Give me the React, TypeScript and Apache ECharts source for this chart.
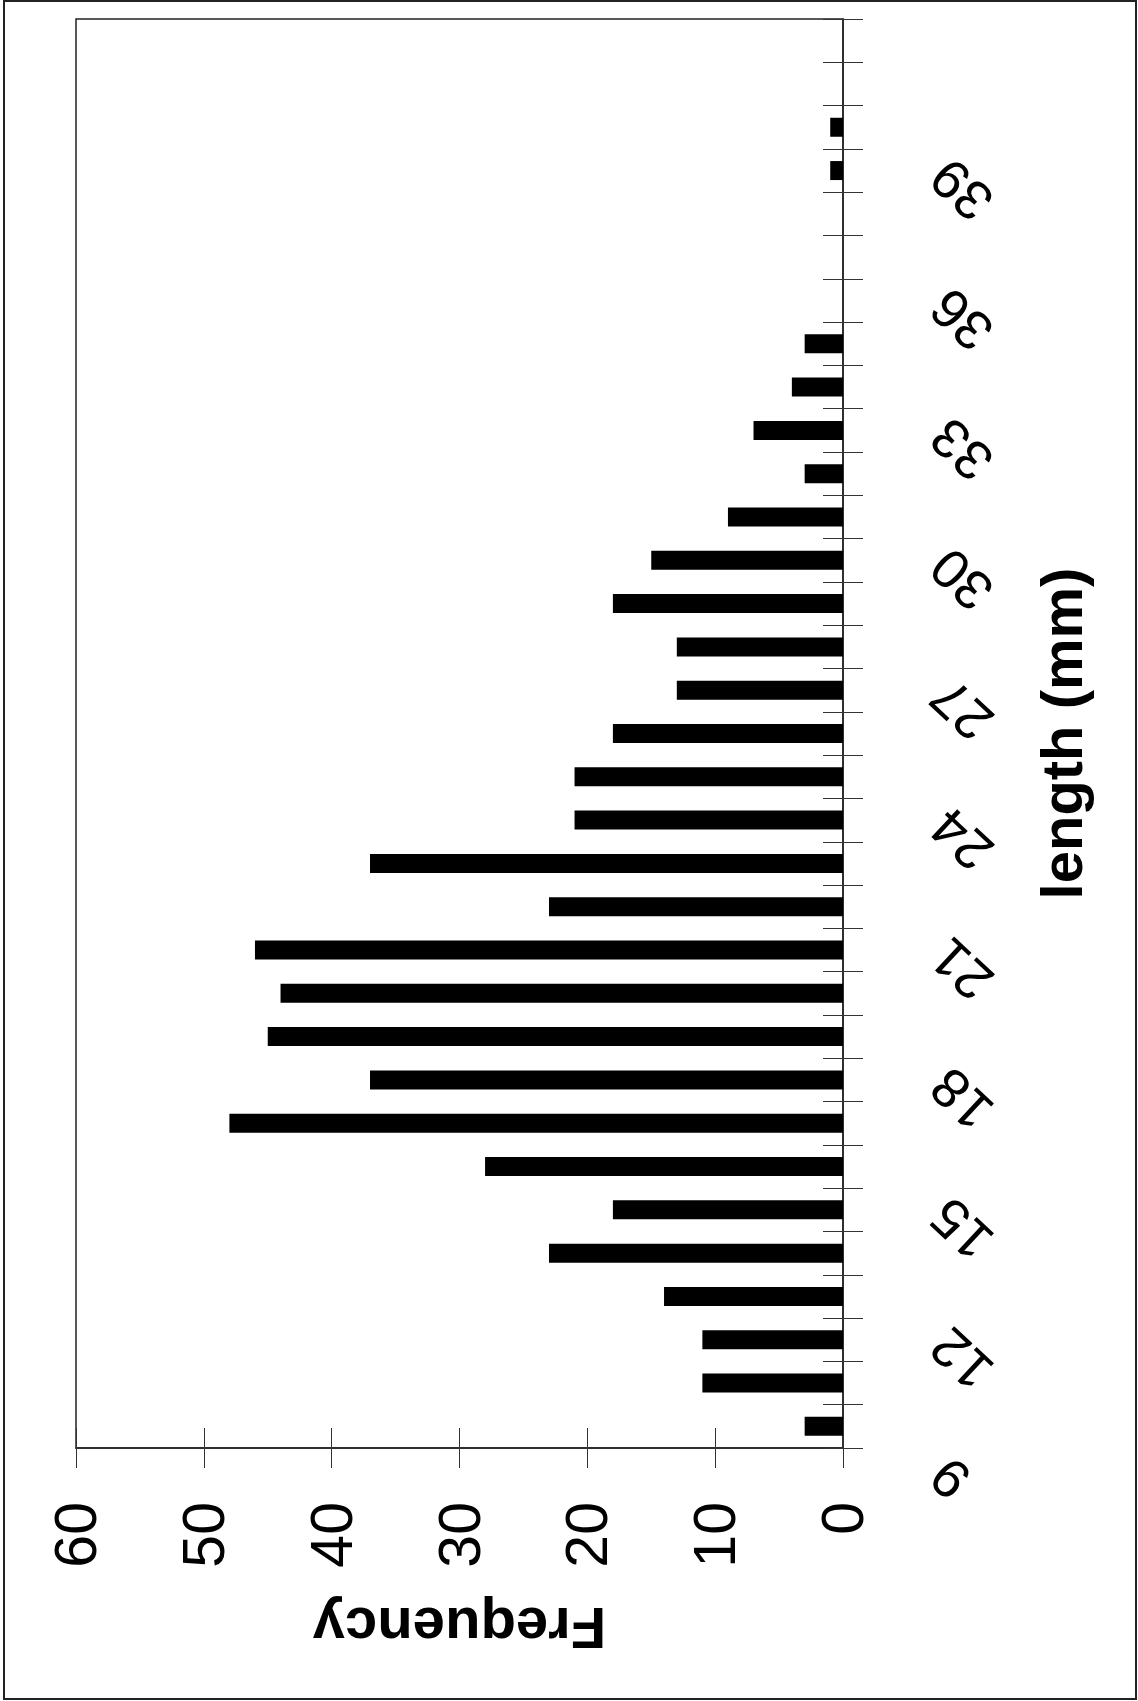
import React, { useEffect, useRef } from "react";
import * as echarts from "echarts";

const lengthBins = ["9", "10", "11", "12", "13", "14", "15", "16", "17", "18", "19", "20", "21", "22", "23", "24", "25", "26", "27", "28", "29", "30", "31", "32", "33", "34", "35", "36", "37", "38", "39", "40", "41"];
const frequency = [3, 11, 11, 14, 23, 18, 28, 48, 37, 45, 44, 46, 23, 37, 21, 21, 18, 13, 13, 18, 15, 9, 3, 7, 4, 3, 0, 0, 0, 1, 1, 0, 0];
const lengthTickLabels = [9, 12, 15, 18, 21, 24, 27, 30, 33, 36, 39];
const lengthMin = 9;
const lengthMax = 42;
const freqMin = 0;
const freqMax = 60;
const freqStep = 10;

const FONT = "'Liberation Sans', Arial, sans-serif";

export default function App() {
  const ref = useRef<HTMLDivElement>(null);
  useEffect(() => {
    if (!ref.current) return;
    const chart = echarts.init(ref.current, undefined, { renderer: "svg" });
    const lineStyle = { color: "#222", width: 1.5 };
    const tickStyle = { color: "#333", width: 1 };
    chart.setOption({
      animation: false,
      backgroundColor: "#fff",
      textStyle: { fontFamily: FONT },
      grid: {
        left: 76,
        top: 19,
        width: 767,
        height: 1429,
        show: true,
        borderColor: "#222",
        borderWidth: 1.5,
        backgroundColor: "transparent",
      },
      xAxis: [
        {
          type: "value",
          position: "bottom",
          inverse: true,
          min: freqMin,
          max: freqMax,
          interval: freqStep,
          name: "Frequency",
          nameLocation: "middle",
          nameRotate: 180,
          nameGap: 151,
          nameTextStyle: { fontSize: 58, fontWeight: "bold", color: "#000", fontFamily: FONT },
          axisLine: { show: true, lineStyle },
          axisTick: { show: true, length: 20, lineStyle: tickStyle },
          axisLabel: { rotate: 90, fontSize: 59, margin: 54, color: "#000", fontFamily: FONT },
          splitLine: { show: false },
        },
        {
          type: "value",
          position: "bottom",
          inverse: true,
          min: freqMin,
          max: freqMax,
          interval: freqStep,
          axisLine: { show: false },
          axisTick: { show: true, inside: true, length: 20, lineStyle: tickStyle },
          axisLabel: { show: false },
          splitLine: { show: false },
        },
      ],
      yAxis: [
        {
          type: "category",
          data: lengthBins,
          position: "right",
          show: false,
        },
        {
          type: "value",
          position: "right",
          min: lengthMin,
          max: lengthMax,
          interval: 1,
          name: "length (mm)",
          nameLocation: "middle",
          nameRotate: 90,
          nameGap: 189,
          nameTextStyle: { fontSize: 58, fontWeight: "bold", color: "#000", fontFamily: FONT },
          axisLine: { show: true, lineStyle },
          axisTick: { show: true, length: 20, lineStyle: tickStyle },
          axisLabel: {
            rotate: 137,
            align: "right",
            verticalAlign: "bottom",
            margin: 115,
            fontSize: 55,
            color: "#000",
            fontFamily: FONT,
            formatter: (v: number) => (lengthTickLabels.includes(v) ? String(v) : ""),
          },
          splitLine: { show: false },
        },
        {
          type: "value",
          position: "right",
          min: lengthMin,
          max: lengthMax,
          interval: 1,
          axisLine: { show: false },
          axisTick: { show: true, inside: true, length: 20, lineStyle: tickStyle },
          axisLabel: { show: false },
          splitLine: { show: false },
        },
      ],
      graphic: [
        {
          type: "rect",
          shape: { x: 4, y: 1, width: 1132, height: 1698 },
          style: { fill: "none", stroke: "#222", lineWidth: 2 },
          silent: true,
        },
      ],
      series: [
        {
          type: "bar",
          xAxisIndex: 0,
          yAxisIndex: 0,
          data: frequency,
          barWidth: 19,
          itemStyle: { color: "#000" },
        },
        { type: "scatter", xAxisIndex: 1, yAxisIndex: 1, data: [] },
        { type: "scatter", xAxisIndex: 1, yAxisIndex: 2, data: [] },
      ],
    });
    return () => chart.dispose();
  }, []);
  return (
    <div
      ref={ref}
      style={{ position: "fixed", left: 0, top: 0, width: 1138, height: 1701, background: "#fff" }}
    />
  );
}
